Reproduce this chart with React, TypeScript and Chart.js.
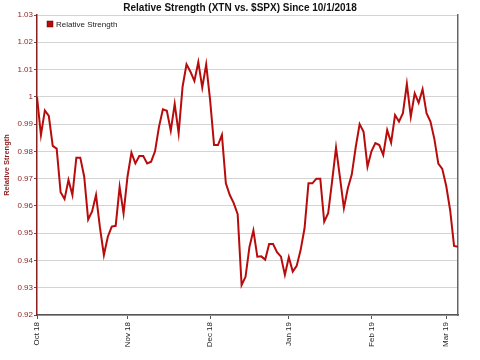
import React, { useEffect, useRef } from "react";
import { Chart, registerables } from "chart.js";

Chart.register(...registerables);

const chartTitle = "Relative Strength (XTN vs. $SPX) Since 10/1/2018";
const seriesLabel = "Relative Strength";
const yAxisTitle = "Relative Strength";

const monthTickIndex = [0, 23, 44, 64, 85, 104];
const monthTickLabels = ["Oct 18", "Nov 18", "Dec 18", "Jan 19", "Feb 19", "Mar 19"];

const yMin = 0.92;
const yMax = 1.03;
const yStep = 0.01;

const relativeStrength = [
  1.0, 0.986, 0.995, 0.993, 0.982, 0.981, 0.965, 0.9625, 0.9695, 0.964,
  0.9777, 0.9777, 0.9707, 0.955, 0.958, 0.964, 0.952, 0.942, 0.9487, 0.9524,
  0.9527, 0.967, 0.9573, 0.9707, 0.9795, 0.9756, 0.9783, 0.9783, 0.9756, 0.9762,
  0.98, 0.989, 0.9954, 0.9949, 0.9876, 0.9974, 0.9866, 1.0037, 1.0119, 1.0092,
  1.0058, 1.0127, 1.0034, 1.0119, 0.9988, 0.9823, 0.9823, 0.986, 0.9683, 0.964,
  0.961, 0.957, 0.931, 0.934, 0.945, 0.951, 0.9414, 0.9415, 0.9403, 0.946,
  0.946, 0.943, 0.9414, 0.9347, 0.9412, 0.9359, 0.938, 0.9438, 0.9518, 0.9683,
  0.9683, 0.97, 0.97, 0.9542, 0.9573, 0.969, 0.9814, 0.9705, 0.9592, 0.9665,
  0.9715, 0.9815, 0.99, 0.9872, 0.9744, 0.98, 0.983, 0.9823, 0.9787, 0.9878,
  0.9832, 0.9933, 0.9909, 0.994, 1.0047, 0.9927, 1.0013, 0.9978, 1.0028, 0.994,
  0.9909, 0.9845, 0.9755, 0.9736, 0.9674, 0.9585, 0.9453, 0.945,
];

const FONT = 'Arial, "Liberation Sans", sans-serif';
const LINE_COLOR = "#b80c0c";
const AXIS_RED = "#8b1f1f";

const insideLegend = {
  id: "insideLegend",
  afterDatasetsDraw(chart: any) {
    const { ctx, chartArea } = chart;
    const ds = chart.data.datasets[0];
    const bx = chartArea.left + 10;
    const by = chartArea.top + 6;
    ctx.save();
    ctx.fillStyle = ds.borderColor;
    ctx.fillRect(bx, by, 6, 6);
    ctx.strokeStyle = "#5a0000";
    ctx.lineWidth = 0.5;
    ctx.strokeRect(bx, by, 6, 6);
    ctx.fillStyle = "#222";
    ctx.font = `8px ${FONT}`;
    ctx.textBaseline = "middle";
    ctx.textAlign = "left";
    ctx.fillText(ds.label, bx + 9, by + 3.5);
    ctx.restore();
  },
};

export default function App() {
  const ref = useRef<HTMLCanvasElement | null>(null);

  useEffect(() => {
    if (!ref.current) return;
    const points = relativeStrength.map((v, i) => ({ x: i, y: v }));
    const chart = new Chart(ref.current, {
      type: "line",
      data: {
        datasets: [
          {
            label: seriesLabel,
            data: points,
            borderColor: LINE_COLOR,
            backgroundColor: LINE_COLOR,
            borderWidth: 2,
            pointRadius: 0,
            tension: 0,
            fill: false,
          },
        ],
      },
      options: {
        responsive: false,
        animation: false,
        layout: { padding: 0 },
        plugins: {
          legend: { display: false },
          tooltip: { enabled: false },
          title: {
            display: true,
            text: chartTitle,
            color: "#111",
            font: { family: FONT, size: 10, weight: "bold" },
            padding: { top: 2, bottom: 1 },
          },
        },
        scales: {
          x: {
            type: "linear",
            min: 0,
            max: relativeStrength.length - 1,
            afterBuildTicks: (scale: any) => {
              scale.ticks = monthTickIndex.map((v) => ({ value: v }));
            },
            afterFit: (scale: any) => {
              scale.height = 45;
            },
            ticks: {
              autoSkip: false,
              minRotation: 90,
              maxRotation: 90,
              padding: 3,
              color: "#222",
              font: { family: FONT, size: 8 },
              callback: (value: any) => {
                const k = monthTickIndex.indexOf(Number(value));
                return k >= 0 ? monthTickLabels[k] : "";
              },
            },
            grid: {
              drawOnChartArea: false,
              drawTicks: true,
              tickLength: 4,
              tickColor: "#555",
            },
            border: { display: true, color: "#555", width: 1.5 },
          },
          y: {
            type: "linear",
            position: "left",
            min: yMin,
            max: yMax,
            afterFit: (scale: any) => {
              scale.width = 37;
            },
            ticks: {
              stepSize: yStep,
              padding: 1,
              color: AXIS_RED,
              font: { family: FONT, size: 8 },
              callback: (value: any) => String(parseFloat(Number(value).toFixed(2))),
            },
            grid: {
              color: "#d4d4d4",
              lineWidth: 1,
              tickLength: 3,
              tickColor: "#555",
            },
            border: { display: true, color: AXIS_RED, width: 1.5 },
            title: {
              display: true,
              text: yAxisTitle,
              color: AXIS_RED,
              font: { family: FONT, size: 7.5, weight: "bold" },
              padding: { top: 2, bottom: 2 },
            },
          },
          yRight: {
            type: "linear",
            position: "right",
            min: yMin,
            max: yMax,
            afterFit: (scale: any) => {
              scale.width = 22;
            },
            ticks: { display: false },
            grid: { display: false, drawOnChartArea: false, drawTicks: false },
            border: { display: true, color: "#666", width: 1.5 },
          },
        },
      },
      plugins: [insideLegend],
    } as any);
    return () => chart.destroy();
  }, []);

  return (
    <div style={{ position: "fixed", left: 0, top: 0, width: 480, height: 360, background: "#fff" }}>
      <canvas ref={ref} width={480} height={360} style={{ display: "block" }} />
    </div>
  );
}
